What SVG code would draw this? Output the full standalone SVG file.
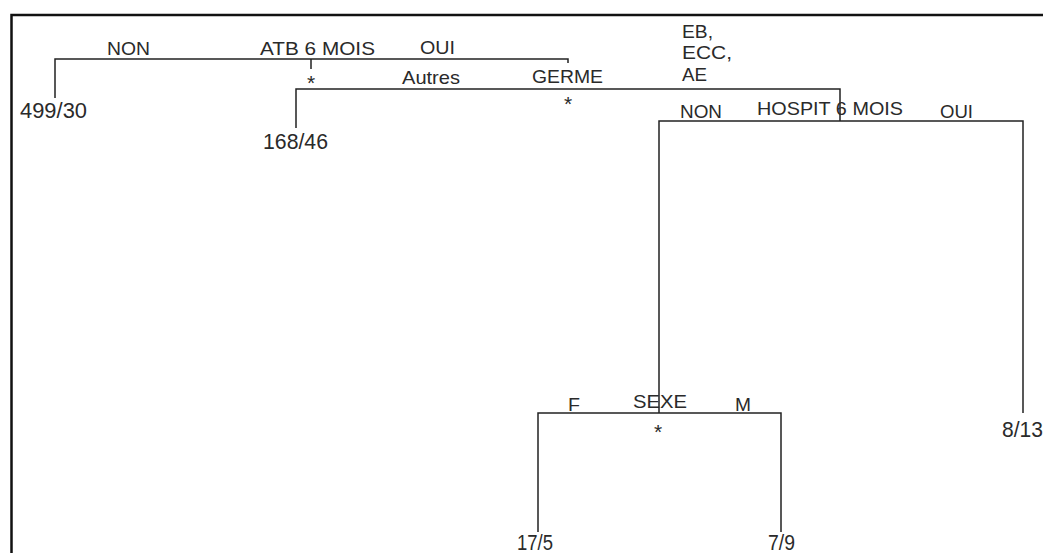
<svg xmlns="http://www.w3.org/2000/svg" width="1043" height="553" viewBox="0 0 1043 553">
<style>
.t{font-family:"Liberation Sans",Arial,sans-serif;font-size:18.5px;fill:#2a2a2a}
.n{font-family:"Liberation Sans",Arial,sans-serif;font-size:22px;fill:#2a2a2a}
.s{font-family:"Liberation Sans",Arial,sans-serif;font-size:21px;fill:#2a2a2a;text-anchor:middle}
.ln{stroke:#222;stroke-width:1.5;fill:none}
.bd{stroke:#111;stroke-width:2.5;fill:none}
</style>
<rect width="1043" height="553" fill="#fff"/>
<path class="bd" d="M11.5,553 V15 H1043"/>
<g id="connectors">
<path class="ln" d="M55,98 V59 H568 V63"/>
<path class="ln" d="M311,59 V69"/>
<path class="ln" d="M296,128 V89 H840 V121"/>
<path class="ln" d="M659,413 V121 H1023 V413"/>
<path class="ln" d="M538,532 V413 H781 V532"/>
</g>
<g id="atb">
<text class="t" x="107" y="55" textLength="43" lengthAdjust="spacingAndGlyphs">NON</text>
<text class="t" x="260" y="55" textLength="115" lengthAdjust="spacingAndGlyphs">ATB 6 MOIS</text>
<text class="t" x="420" y="54" textLength="35" lengthAdjust="spacingAndGlyphs">OUI</text>
<text class="s" x="311" y="90">*</text>
</g>
<g id="leaf-499">
<text class="n" x="20" y="118" textLength="67" lengthAdjust="spacingAndGlyphs">499/30</text>
</g>
<g id="germe">
<text class="t" x="402" y="84" textLength="58" lengthAdjust="spacingAndGlyphs">Autres</text>
<text class="t" x="532" y="83" textLength="71" lengthAdjust="spacingAndGlyphs">GERME</text>
<text class="s" x="568" y="111">*</text>
<text class="t" x="682" y="38" textLength="31" lengthAdjust="spacingAndGlyphs">EB,</text>
<text class="t" x="682" y="59" textLength="50" lengthAdjust="spacingAndGlyphs">ECC,</text>
<text class="t" x="682" y="81" textLength="25" lengthAdjust="spacingAndGlyphs">AE</text>
</g>
<g id="leaf-168">
<text class="n" x="263" y="149" textLength="65" lengthAdjust="spacingAndGlyphs">168/46</text>
</g>
<g id="hospit">
<text class="t" x="680" y="118" textLength="42" lengthAdjust="spacingAndGlyphs">NON</text>
<text class="t" x="757" y="115" textLength="146" lengthAdjust="spacingAndGlyphs">HOSPIT 6 MOIS</text>
<text class="t" x="940" y="118" textLength="33" lengthAdjust="spacingAndGlyphs">OUI</text>
</g>
<g id="leaf-8-13">
<text class="n" x="1002" y="437" textLength="41" lengthAdjust="spacingAndGlyphs">8/13</text>
</g>
<g id="sexe">
<text class="t" x="568" y="411" textLength="12" lengthAdjust="spacingAndGlyphs">F</text>
<text class="t" x="633" y="408" textLength="54" lengthAdjust="spacingAndGlyphs">SEXE</text>
<text class="t" x="735" y="411" textLength="16" lengthAdjust="spacingAndGlyphs">M</text>
<text class="s" x="658" y="439">*</text>
</g>
<g id="leaf-17-5">
<text class="n" x="517" y="550" textLength="36" lengthAdjust="spacingAndGlyphs">17/5</text>
</g>
<g id="leaf-7-9">
<text class="n" x="768" y="550" textLength="27" lengthAdjust="spacingAndGlyphs">7/9</text>
</g>
</svg>
